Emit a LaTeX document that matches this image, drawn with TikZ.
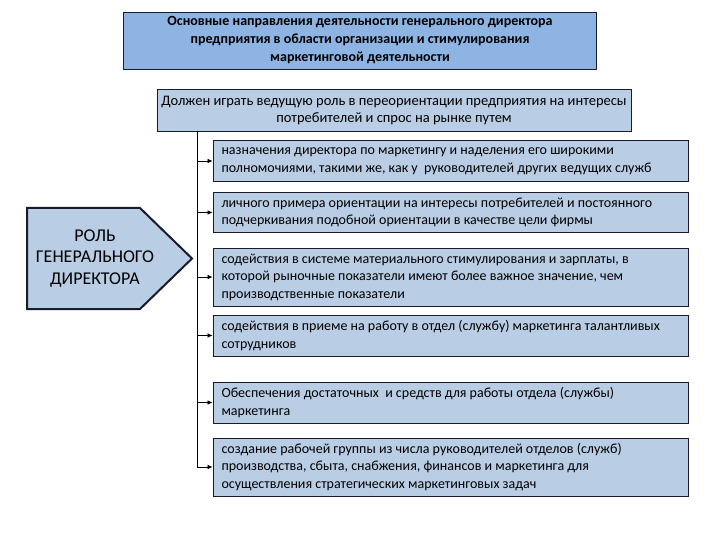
\documentclass[tikz,border=0pt]{standalone}
\usepackage{fontspec}
\setmainfont{Carlito}
\usetikzlibrary{arrows.meta}
\definecolor{titlefill}{HTML}{8EB4E3}
\definecolor{boxfill}{HTML}{B9CDE5}
\definecolor{boxline}{HTML}{1A1A2E}
\tikzset{
  titlebox/.style={draw=boxline, line width=0.8pt, fill=titlefill, minimum width=473pt, minimum height=57pt, align=center, font=\fontsize{14}{18}\selectfont\bfseries, inner sep=0pt},
  leadbox/.style={draw=boxline, line width=0.8pt, fill=boxfill, minimum width=474pt, minimum height=42pt, align=center, font=\fontsize{14.5}{17}\selectfont, inner sep=0pt},
  itembox/.style={draw=boxline, line width=0.8pt, fill=boxfill, minimum width=475pt, text width=458pt, align=flush left, font=\fontsize{14}{17.5}\selectfont, inner xsep=8.5pt, inner ysep=0pt},
  rolebox/.style={draw=boxline, line width=2pt, fill=boxfill, line join=miter},
  conn/.style={draw=black, line width=0.7pt, -{Latex[length=5pt,width=4.5pt]}}
}
\begin{document}
\begin{tikzpicture}[x=1pt,y=-1pt]
\useasboundingbox (0,0) rectangle (720,540);
\fill[white] (0,0) rectangle (720,540);
\node[titlebox] (title) at (360,40.5) {Основные направления деятельности генерального директора\\предприятия в области организации и стимулирования\\маркетинговой деятельности};
\node[leadbox] (lead) at (394,110.5) {Должен играть ведущую роль в переориентации предприятия на интересы\\потребителей и спрос на рынке путем};
\node[itembox, minimum height=41pt] (b1) at (450.5,161) {назначения директора по маркетингу и наделения его широкими\\полномочиями, такими же, как у\ \ руководителей других ведущих служб};
\node[itembox, minimum height=40pt] (b2) at (450.5,212.5) {личного примера ориентации на интересы потребителей и постоянного\\подчеркивания подобной ориентации в качестве цели фирмы};
\node[itembox, minimum height=58pt] (b3) at (450.5,277) {содействия в системе материального стимулирования и зарплаты, в\\которой рыночные показатели имеют более важное значение, чем\\производственные показатели};
\node[itembox, minimum height=41pt] (b4) at (450.5,335.5) {содействия в приеме на работу в отдел (службу) маркетинга талантливых\\сотрудников};
\node[itembox, minimum height=41pt] (b5) at (450.5,402.5) {Обеспечения достаточных\ \ и средств для работы отдела (службы)\\маркетинга};
\node[itembox, minimum height=58pt] (b6) at (450.5,467) {создание рабочей группы из числа руководителей отделов (служб)\\производства, сбыта, снабжения, финансов и маркетинга для\\осуществления стратегических маркетинговых задач};
\draw[rolebox] (27,208) -- (140,208) -- (192,258.5) -- (140,309) -- (27,309) -- cycle;
\node[align=center, font=\fontsize{18}{21.5}\selectfont, inner sep=0pt] (role) at (95,258.5) {РОЛЬ\\ГЕНЕРАЛЬНОГО\\ДИРЕКТОРА};
\coordinate (top) at (197,131);
\draw[conn] (top) |- (b1.west);
\draw[conn] (top) |- (b2.west);
\draw[conn] (top) |- (b3.west);
\draw[conn] (top) |- (b4.west);
\draw[conn] (top) |- (b5.west);
\draw[conn] (top) |- (b6.west);
\end{tikzpicture}
\end{document}
